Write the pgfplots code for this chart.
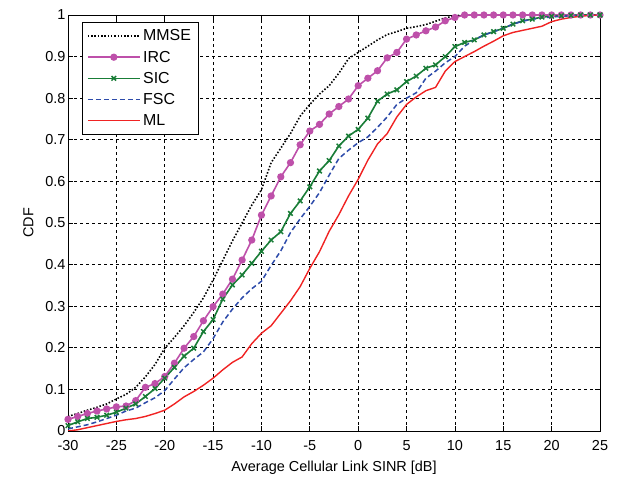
\documentclass[border=0pt]{standalone}
\usepackage{fontspec}
\setmainfont{Liberation Sans}
\usepackage{pgfplots}
\usepackage{pgfplotstable}
\pgfplotsset{compat=1.18}
\definecolor{mmse}{RGB}{0,0,0}
\definecolor{irc}{RGB}{190,80,170}
\definecolor{sic}{RGB}{25,125,55}
\definecolor{fsc}{RGB}{45,75,170}
\definecolor{ml}{RGB}{240,35,35}
\pgfplotstableread{
x mmse irc sic fsc ml
-30 0.035 0.028 0.013 0.005 0.000
-29 0.042 0.035 0.022 0.010 0.003
-28 0.050 0.042 0.030 0.015 0.008
-27 0.057 0.048 0.033 0.022 0.013
-26 0.065 0.053 0.038 0.030 0.018
-25 0.077 0.058 0.045 0.038 0.023
-24 0.088 0.060 0.055 0.048 0.027
-23 0.105 0.073 0.065 0.055 0.030
-22 0.130 0.105 0.083 0.068 0.035
-21 0.160 0.114 0.102 0.080 0.042
-20 0.199 0.131 0.127 0.097 0.050
-19 0.225 0.163 0.153 0.125 0.065
-18 0.253 0.199 0.180 0.152 0.082
-17 0.285 0.227 0.199 0.172 0.095
-16 0.320 0.265 0.239 0.190 0.110
-15 0.363 0.299 0.268 0.222 0.127
-14 0.410 0.329 0.317 0.262 0.147
-13 0.457 0.365 0.351 0.293 0.165
-12 0.500 0.411 0.375 0.320 0.178
-11 0.543 0.459 0.403 0.342 0.210
-10 0.580 0.519 0.432 0.360 0.235
-9 0.645 0.565 0.459 0.398 0.253
-8 0.680 0.611 0.479 0.433 0.283
-7 0.715 0.645 0.523 0.477 0.313
-6 0.757 0.688 0.553 0.510 0.347
-5 0.785 0.721 0.587 0.540 0.391
-4 0.810 0.737 0.625 0.573 0.431
-3 0.830 0.762 0.650 0.615 0.480
-2 0.860 0.780 0.685 0.655 0.520
-1 0.895 0.798 0.709 0.675 0.565
0 0.910 0.830 0.725 0.693 0.605
1 0.925 0.848 0.752 0.707 0.651
2 0.940 0.866 0.793 0.730 0.690
3 0.953 0.897 0.810 0.755 0.715
4 0.960 0.910 0.820 0.785 0.755
5 0.968 0.942 0.840 0.800 0.785
6 0.972 0.952 0.853 0.813 0.803
7 0.977 0.962 0.872 0.848 0.818
8 0.985 0.971 0.880 0.865 0.826
9 0.993 0.986 0.900 0.885 0.865
10 0.998 0.994 0.924 0.900 0.888
11 1.000 1.000 0.934 0.925 0.900
12 1.000 1.000 0.940 0.940 0.912
13 1.000 1.000 0.952 0.952 0.925
14 1.000 1.000 0.960 0.960 0.937
15 1.000 1.000 0.968 0.968 0.950
16 1.000 1.000 0.978 0.978 0.958
17 1.000 1.000 0.986 0.985 0.963
18 1.000 1.000 0.990 0.990 0.968
19 1.000 1.000 0.995 0.993 0.973
20 1.000 1.000 0.997 0.995 0.984
21 1.000 1.000 0.998 0.997 0.990
22 1.000 1.000 0.999 0.998 0.994
23 1.000 1.000 1.000 0.999 0.997
24 1.000 1.000 1.000 1.000 0.999
25 1.000 1.000 1.000 1.000 1.000
}\cdfdata
\begin{document}
\begin{tikzpicture}[x=1bp,y=1bp]
\useasboundingbox (0,0) rectangle (617,477);
\begin{axis}[
  at={(68bp,46bp)}, anchor=south west,
  width=532bp, height=416bp, scale only axis,
  xmin=-30, xmax=25, ymin=0, ymax=1,
  xtick={-30,-25,...,25},
  ytick={0,0.1,...,1},
  yticklabels={0,0.1,0.2,0.3,0.4,0.5,0.6,0.7,0.8,0.9,1},
  tick align=inside,
  major tick length=5bp,
  grid=major,
  major grid style={black, dash pattern=on 3bp off 3bp, line width=0.7bp},
  axis line style={black, line width=0.9bp},
  tick style={black, line width=0.7bp},
  /pgf/number format/assume math mode=true,
  ticklabel style={font=\fontsize{14.5}{16}\selectfont},
  xticklabel style={yshift=-6bp},
  yticklabel style={xshift=1bp},
  label style={font=\fontsize{14.5}{16}\selectfont},
  xlabel={Average Cellular Link SINR [dB]},
  ylabel={CDF},
  xlabel style={at={(axis description cs:0.5,0)}, anchor=north, yshift=-27bp},
  ylabel style={at={(axis description cs:0,0.5)}, anchor=south, yshift=31bp},
  legend style={at={(0.026,0.983)}, anchor=north west, draw=black,
    font=\fontsize{16}{18}\selectfont, row sep=3.5bp, inner xsep=5bp, inner ysep=5bp,
    nodes={inner sep=2.5bp}},
  legend cell align=left,
  legend image code/.code={\draw[mark repeat=2, mark phase=2, #1] plot coordinates {(0bp,0bp) (26bp,0bp) (52bp,0bp)};},
]
\addplot[mmse, line width=1.6bp, dash pattern=on 1.5bp off 1.8bp] table[x=x,y=mmse]{\cdfdata};
\addlegendentry{MMSE}
\addplot[irc, line width=1.6bp, mark=*, mark size=2.8bp, mark options={solid, fill=irc}] table[x=x,y=irc]{\cdfdata};
\addlegendentry{IRC}
\addplot[sic, line width=1.6bp, mark=x, mark size=3.2bp, mark options={solid, line width=1.5bp}] table[x=x,y=sic]{\cdfdata};
\addlegendentry{SIC}
\addplot[fsc, line width=1.5bp, dash pattern=on 5bp off 3bp] table[x=x,y=fsc]{\cdfdata};
\addlegendentry{FSC}
\addplot[ml, line width=1.4bp] table[x=x,y=ml]{\cdfdata};
\addlegendentry{ML}
\end{axis}
\end{tikzpicture}
\end{document}
